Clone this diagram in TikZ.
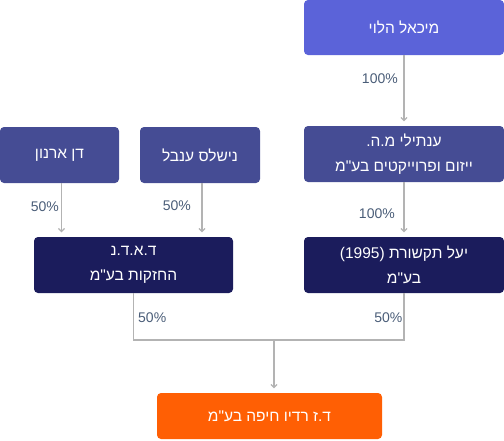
\documentclass[tikz,border=0pt]{standalone}
\usepackage{fontspec}
\setmainfont{Liberation Sans}
\newfontfamily\hebfont[Script=Hebrew]{Liberation Sans}
\TeXXeTstate=1
\usetikzlibrary{arrows.meta}
\definecolor{cTop}{HTML}{5B63D9}
\definecolor{cMid}{HTML}{454C94}
\definecolor{cDark}{HTML}{1B1C5C}
\definecolor{cOrange}{HTML}{FF5F04}
\definecolor{cLbl}{HTML}{4A5D78}
\definecolor{cLine}{HTML}{B3B3B3}
\newcommand{\hbline}[1]{\beginR #1\endR}
\begin{document}
\begin{tikzpicture}[x=1pt,y=-1pt,
  box/.style={rounded corners=4pt, text=white, font=\hebfont\fontsize{15.5}{25}\selectfont,
    align=center, inner sep=0pt},
  lbl/.style={text=cLbl, font=\fontsize{14}{16}\selectfont, inner sep=0pt},
  wire/.style={draw=cLine, line width=1.2pt},
  conn/.style={wire, -{Straight Barb[length=3pt,width=6pt]}, shorten >=4.5pt}]
\useasboundingbox (0,0) rectangle (504,440);
\node[box, fill=cTop, minimum width=200pt, minimum height=55pt] (mh) at (404,27.5) {\hbline{מיכאל הלוי}};
\node[box, fill=cMid, minimum width=200pt, minimum height=56pt] (an) at (404,154) {\hbline{ענתילי מ.ה.}\\\hbline{ייזום ופרוייקטים בע"מ}};
\node[box, fill=cDark, minimum width=200pt, minimum height=56pt] (yael) at (404,265) {\hbline{יעל תקשורת \beginL(1995)\endL}\\\hbline{בע"מ}};
\node[box, fill=cMid, minimum width=119pt, minimum height=56pt] (dan) at (59.5,155) {\hbline{דן ארנון}};
\node[box, fill=cMid, minimum width=120pt, minimum height=56pt] (nish) at (200,155) {\hbline{נישלס ענבל}};
\node[box, fill=cDark, minimum width=199pt, minimum height=56pt] (dadn) at (133.5,265) {\hbline{ד.א.ד.נ}\\\hbline{החזקות בע"מ}};
\node[box, fill=cOrange, minimum width=225pt, minimum height=46pt] (radio) at (269.5,416) {\hbline{ד.ז רדיו חיפה בע"מ}};
\coordinate (j) at (274,340);
\draw[conn] (mh.south) -- (an.north);
\draw[conn] (an.south) -- (yael.north);
\draw[conn] ([xshift=2pt]dan.south) -- ([xshift=2pt]dan.south |- dadn.north);
\draw[conn] ([xshift=2pt]nish.south) -- ([xshift=2pt]nish.south |- dadn.north);
\draw[wire] (dadn.south) |- (j);
\draw[wire] (yael.south) |- (j);
\draw[conn] (j) -- (j |- radio.north);
\node[lbl, anchor=east] (p1) at (398,79) {100\%};
\node[lbl, anchor=east] (p2) at (395,214) {100\%};
\node[lbl, anchor=east] (p3) at (59,207) {50\%};
\node[lbl, anchor=east] (p4) at (191,206) {50\%};
\node[lbl, anchor=west] (p5) at (138,318) {50\%};
\node[lbl, anchor=east] (p6) at (402.5,318) {50\%};
\end{tikzpicture}
\end{document}
